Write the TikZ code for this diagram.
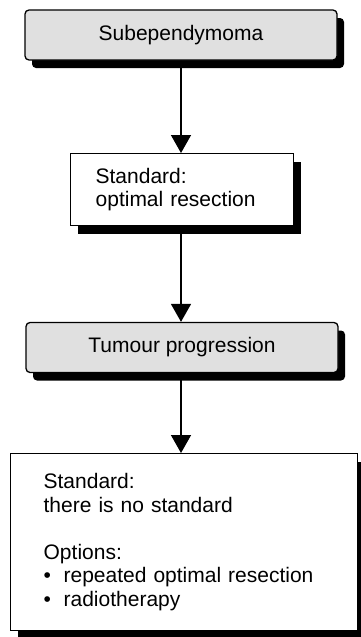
\documentclass[tikz,border=0pt]{standalone}
\usepackage{fontspec}
\setmainfont{Liberation Sans}
\usepackage{tikz}
\usetikzlibrary{shadows,arrows.meta}
\definecolor{ink}{HTML}{000000}
\definecolor{boxgray}{HTML}{E0E0E0}
\tikzset{
  base/.style={draw=ink, line width=1.3pt, font=\fontsize{21}{23.5}\selectfont,
    drop shadow={shadow xshift=7pt, shadow yshift=-8pt, fill=ink, opacity=1}},
  head/.style={base, fill=boxgray, rounded corners=4pt, align=center,
    minimum width=312pt, minimum height=50pt},
  plain/.style={base, fill=white, align=left, anchor=north west},
  arr/.style={draw=ink, line width=1.5pt, -{Triangle[width=20pt,length=18pt]}},
}

\begin{document}
\begin{tikzpicture}[x=1pt,y=-1pt]
  \useasboundingbox (0,0) rectangle (360,637);

  \node[head] (sub) at (181,35) {Subependymoma};
  \node[plain, inner xsep=25pt, text width=173pt, minimum height=72pt] (std1) at (70,153)
    {Standard:\\optimal resection};
  \node[head] (prog) at (182,347.5) {Tumour progression};
  \node[plain, inner xsep=33pt, text width=281pt, minimum height=177pt] (std2) at (10,453)
    {Standard:\\there is no standard\\[23.5pt]Options:\\
     \makebox[20pt][l]{\textbullet}repeated optimal resection\\
     \makebox[20pt][l]{\textbullet}radiotherapy};

  \draw[arr] (sub.south) -- (sub.south |- std1.north);
  \draw[arr] (sub.south |- std1.south) -- (sub.south |- prog.north);
  \draw[arr] (sub.south |- prog.south) -- (sub.south |- std2.north);
\end{tikzpicture}
\end{document}
